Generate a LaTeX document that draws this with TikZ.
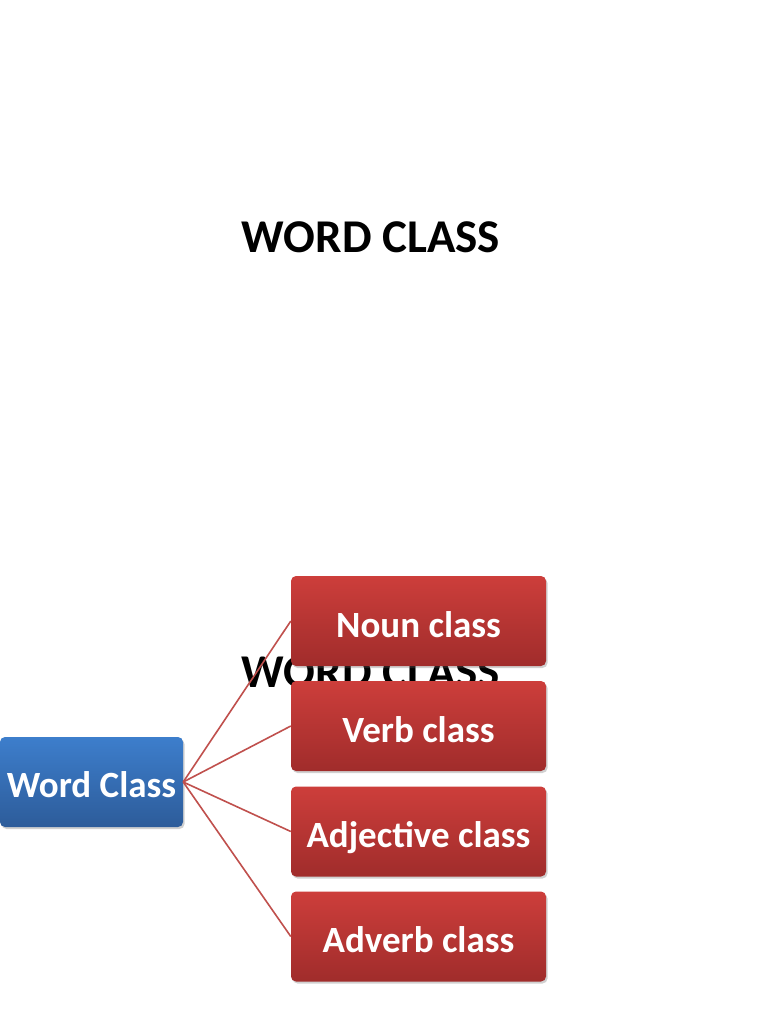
\documentclass[tikz,border=0pt]{standalone}
\usepackage{fontspec}
\setmainfont{Carlito}
\usetikzlibrary{shadows}
\definecolor{redtop}{HTML}{CD3E3B}
\definecolor{redbot}{HTML}{A02C2B}
\definecolor{bluetop}{HTML}{3D7ECC}
\definecolor{bluebot}{HTML}{2D5C9A}
\definecolor{linkred}{HTML}{C0504D}
\tikzset{
  titletext/.style={font=\fontsize{47}{52}\selectfont\bfseries, text=black, inner sep=0pt},
  redbox/.style={rounded corners=5pt, minimum width=255pt, minimum height=90pt, inner sep=0pt,
    top color=redtop, bottom color=redbot, text=white, text height=32pt, text depth=0pt,
    font=\fontsize{37}{42}\selectfont\bfseries,
    drop shadow={shadow xshift=1.5pt, shadow yshift=-2pt, opacity=0.3, fill=black!60}},
  bluebox/.style={rounded corners=5pt, minimum width=183pt, minimum height=90pt, inner sep=0pt,
    top color=bluetop, bottom color=bluebot, text=white, text height=30pt, text depth=0pt,
    font=\fontsize{37}{42}\selectfont\bfseries,
    drop shadow={shadow xshift=1.5pt, shadow yshift=-2pt, opacity=0.3, fill=black!60}},
  link/.style={draw=linkred, line width=1.6pt}
}
\begin{document}
\begin{tikzpicture}[x=1pt,y=-1pt]
\useasboundingbox[fill=white] (0,0) rectangle (768,1024);
\node[titletext] (title) at (371,237) {WORD CLASS};
\node[titletext] (title2) at (371,672) {WORD CLASS};
\node[bluebox] (root) at (91.5,782) {Word Class};
\node[redbox] (noun) at (418.5,621) {Noun class};
\node[redbox] (verb) at (418.5,726) {Verb class};
\node[redbox] (adj) at (418.5,831.5) {Adjective class};
\node[redbox] (adv) at (418.5,936.5) {Adverb class};
\draw[link] (root.east) -- (noun.west);
\draw[link] (root.east) -- (verb.west);
\draw[link] (root.east) -- (adj.west);
\draw[link] (root.east) -- (adv.west);
\end{tikzpicture}
\end{document}
